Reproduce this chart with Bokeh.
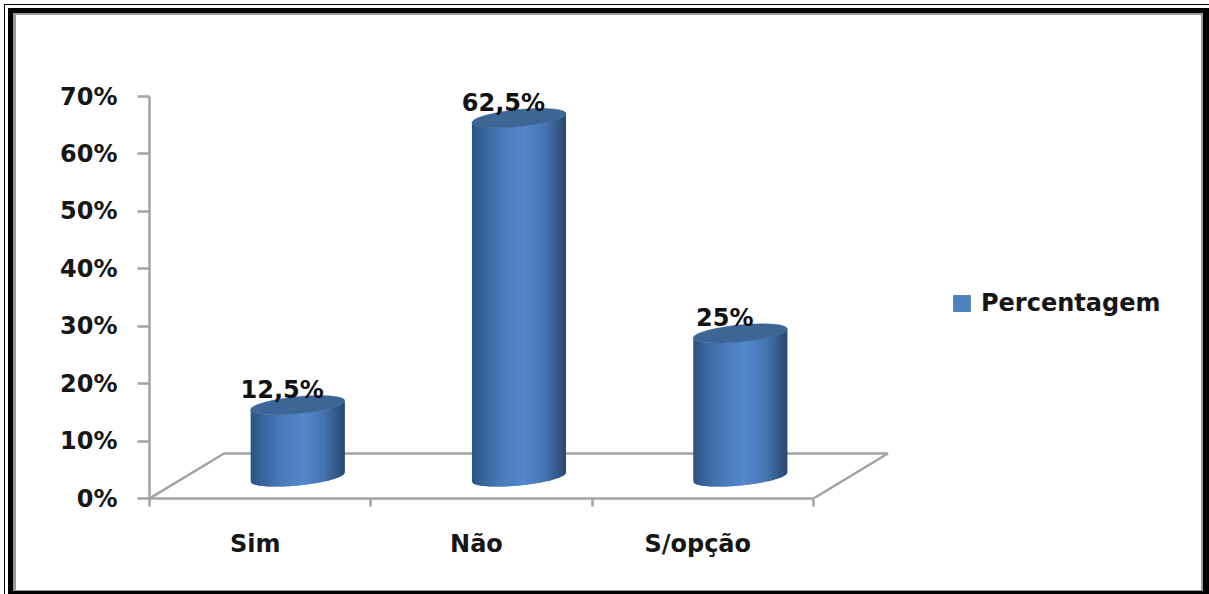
import math

from bokeh.core.properties import value
from bokeh.embed import file_html
from bokeh.models import (ColumnDataSource, FixedTicker, Legend, LegendItem,
                          LinearAxis, Range1d)
from bokeh.plotting import figure
from bokeh.resources import INLINE

# Survey answers, in percent
categories = ["Sim", "Não", "S/opção"]
percentages = [12.5, 62.5, 25]
value_labels = ["12,5%", "62,5%", "25%"]
series_name = "Percentagem"
y_ticks = [0, 10, 20, 30, 40, 50, 60, 70]

WIDTH, HEIGHT = 1209, 594
PLOT_LEFT, PLOT_RIGHT, PLOT_TOP, PLOT_BOTTOM = 149, 1190, 60, 498
PX_PER_CAT = 221.3
PX_PER_PCT = (498 - 96) / 70
FONT = "DejaVu Sans"
FONT_SIZE = "24px"
TEXT_COLOR = "#161616"
AXIS_GRAY = "#a3a3a3"

# Oblique projection of the 3D floor, in data units
DEPTH_X = 74.5 / PX_PER_CAT
DEPTH_Y = 45 / PX_PER_PCT
BAR_SHIFT_X = 37.5 / PX_PER_CAT
BAR_SHIFT_Y = 21.5 / PX_PER_PCT
# Cylinder outline
RADIUS_X = 47 / PX_PER_CAT
ELLIPSE_B = 8.5 / PX_PER_PCT
ELLIPSE_TILT = 4.5 / PX_PER_PCT
STRIPS = 94
TOP_COLOR = "#3b6696"
LEGEND_COLOR = "#4f81bd"

SHADE_STOPS = [(0.0, (44, 84, 132)), (0.12, (56, 100, 155)), (0.32, (73, 122, 184)),
               (0.55, (84, 137, 204)), (0.78, (70, 116, 175)), (0.92, (50, 88, 135)),
               (1.0, (42, 72, 110))]

# Layers of the picture frame, topmost first: left, top, right, bottom, colour
FRAME_LAYERS = [
    (16, 15, 1201, 590, "#ffffff"),
    (13, 13, 1203, 591, "#9a9a9a"),
    (8, 8, 1209, 594, "#000000"),
    (5, 5, 1209, 594, "#ffffff"),
    (4, 4, 1209, 594, "#000000"),
    (0, 0, 1209, 594, "#ffffff"),
]


def shade(u):
    for (u0, c0), (u1, c1) in zip(SHADE_STOPS, SHADE_STOPS[1:]):
        if u <= u1:
            f = (u - u0) / (u1 - u0)
            return "#%02x%02x%02x" % tuple(round(a + (b - a) * f) for a, b in zip(c0, c1))
    return "#2a486e"


def arc_offset(t, sign):
    """Vertical offset of the tilted ellipse at horizontal position t in [-1, 1]."""
    return ELLIPSE_TILT * t + sign * ELLIPSE_B * math.sqrt(max(0.0, 1 - t * t))


frame_background = ", ".join(
    f"linear-gradient({c},{c}) {l}px {t}px / {r - l}px {b - t}px no-repeat"
    for l, t, r, b, c in FRAME_LAYERS)

p = figure(width=WIDTH, height=HEIGHT, output_backend="svg", toolbar_location=None,
           x_range=Range1d(0, (PLOT_RIGHT - PLOT_LEFT) / PX_PER_CAT),
           y_range=Range1d(0, (PLOT_BOTTOM - PLOT_TOP) / PX_PER_PCT),
           x_axis_type=None, y_axis_type=None,
           min_border_left=PLOT_LEFT, min_border_right=WIDTH - PLOT_RIGHT,
           min_border_top=PLOT_TOP, min_border_bottom=HEIGHT - PLOT_BOTTOM,
           outline_line_color=None, background_fill_alpha=0, border_fill_alpha=0,
           styles={"background": frame_background})
p.grid.visible = False

# Value axis, stopping at the last tick
y_axis = LinearAxis(ticker=FixedTicker(ticks=y_ticks), bounds=(0, 70),
                    major_label_overrides={v: f"{v}%" for v in y_ticks},
                    axis_line_color=AXIS_GRAY, axis_line_width=2.5,
                    major_tick_line_color=AXIS_GRAY, major_tick_line_width=2.5,
                    major_tick_in=0, major_tick_out=12, minor_tick_line_color=None,
                    major_label_standoff=20, major_label_text_font=FONT,
                    major_label_text_font_style="bold", major_label_text_font_size=FONT_SIZE,
                    major_label_text_color=TEXT_COLOR)
p.add_layout(y_axis, "left")

# Category axis: the minor ticks mark the spans, the major ones carry the names
n = len(categories)
NAME_SHIFT = 5 / PX_PER_CAT
name_ticks = [i + 0.5 - NAME_SHIFT for i in range(n)]
x_axis = LinearAxis(ticker=FixedTicker(ticks=name_ticks, minor_ticks=list(range(n + 1))),
                    bounds=(0, n),
                    major_label_overrides=dict(zip(name_ticks, categories)),
                    axis_line_color=AXIS_GRAY, axis_line_width=2.5,
                    major_tick_line_color=None, major_tick_in=0, major_tick_out=0,
                    minor_tick_line_color=AXIS_GRAY, minor_tick_line_width=2.5,
                    minor_tick_in=0, minor_tick_out=8, major_label_standoff=23,
                    major_label_text_font=FONT, major_label_text_font_style="bold",
                    major_label_text_font_size=FONT_SIZE, major_label_text_color=TEXT_COLOR)
p.add_layout(x_axis, "below")

# Floor of the 3D box
p.line([0, DEPTH_X, n + DEPTH_X, n], [0, DEPTH_Y, DEPTH_Y, 0],
       line_color=AXIS_GRAY, line_width=2.5)

# Cylinders: a shaded side painted left to right in overlapping strips, then an elliptical cap
strip_xs, strip_ys, strip_colors = [], [], []
cap_xs, cap_ys = [], []
for i, pct in enumerate(percentages):
    cx = i + 0.5 + BAR_SHIFT_X
    for k in range(STRIPS):
        t0 = -1 + 2 * k / STRIPS
        t1 = min(1.0, -1 + 2 * (k + 2) / STRIPS)
        tm = (t0 + t1) / 2
        xs = [cx + RADIUS_X * t for t in (t0, tm, t1, t1, tm, t0)]
        tops = [BAR_SHIFT_Y + pct + arc_offset(t, -1) for t in (t0, tm, t1)]
        bottoms = [BAR_SHIFT_Y + arc_offset(t, -1) for t in (t1, tm, t0)]
        strip_xs.append(xs)
        strip_ys.append(tops + bottoms)
        strip_colors.append(shade((k + 0.5) / STRIPS))
    angles = [2 * math.pi * j / 72 for j in range(72)]
    cap_xs.append([cx + RADIUS_X * math.cos(a) for a in angles])
    cap_ys.append([BAR_SHIFT_Y + pct + ELLIPSE_TILT * math.cos(a) + ELLIPSE_B * math.sin(a)
                   for a in angles])

p.patches(strip_xs, strip_ys, fill_color=strip_colors, line_color=None)
p.patches(cap_xs, cap_ys, fill_color=TOP_COLOR, line_color=TOP_COLOR, line_width=0.5)

# Value labels above each cylinder
label_source = ColumnDataSource(dict(
    x=[i + 0.5 + 22 / PX_PER_CAT for i in range(n)],
    y=[v + 37 / PX_PER_PCT for v in percentages],
    text=value_labels))
p.text("x", "y", text="text", source=label_source, text_align="center",
       text_baseline="alphabetic", text_font=value(FONT), text_font_style="bold",
       text_font_size=FONT_SIZE, text_color="#111111")

# Legend with a single swatch, placed to the right of the floor
swatch = p.quad(left=[float("nan")], right=[float("nan")], top=[float("nan")], bottom=[float("nan")],
                fill_color=LEGEND_COLOR, line_color=LEGEND_COLOR)
legend = Legend(items=[LegendItem(label=series_name, renderers=[swatch])],
                location=(802, 181), orientation="vertical",
                border_line_color=None, background_fill_alpha=0, padding=2, margin=0,
                glyph_width=21, glyph_height=20, label_standoff=9,
                label_text_font=FONT, label_text_font_style="bold",
                label_text_font_size=FONT_SIZE, label_text_color=TEXT_COLOR)
p.add_layout(legend, "center")

open("out.html", "w").write(file_html(p, INLINE))
